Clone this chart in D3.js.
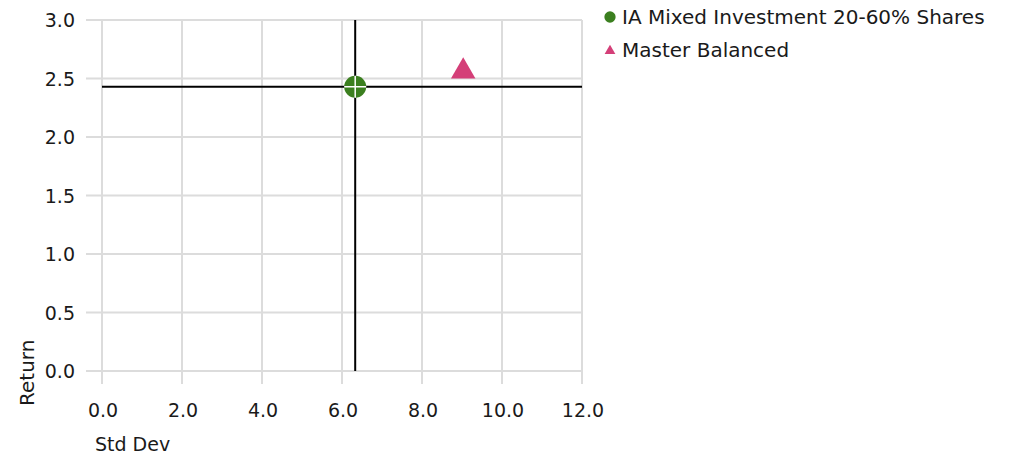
<!DOCTYPE html>
<html>
<head>
<meta charset="utf-8">
<script src="https://cdn.jsdelivr.net/npm/d3@7"></script>
<style>
  body { margin: 0; background: #fff; }
  text { font-family: "DejaVu Sans", Verdana, sans-serif; fill: #1a1a1a; }
</style>
</head>
<body>
<svg id="chart" width="1009" height="456"></svg>
<script>
const seriesNames = ["IA Mixed Investment 20-60% Shares", "Master Balanced"];
const stdDevValues = [6.33, 9.03];
const returnValues = [2.43, 2.57];
const seriesColors = ["#3b7f1f", "#d43f78"];
const xTicks = [0, 2, 4, 6, 8, 10, 12];
const yTicks = [0, 0.5, 1, 1.5, 2, 2.5, 3];

const svg = d3.select("#chart");
const x = d3.scaleLinear().domain([0, 12]).range([102, 582]);
const y = d3.scaleLinear().domain([0, 3]).range([371, 20]);

// gridlines
svg.append("g")
  .selectAll("line")
  .data(yTicks)
  .join("line")
  .attr("x1", 86)
  .attr("x2", x(12))
  .attr("y1", (d) => y(d))
  .attr("y2", (d) => y(d))
  .attr("stroke", "#dcdcdc")
  .attr("stroke-width", 2);

svg.append("g")
  .selectAll("line")
  .data(xTicks)
  .join("line")
  .attr("x1", (d) => x(d))
  .attr("x2", (d) => x(d))
  .attr("y1", y(3))
  .attr("y2", 384)
  .attr("stroke", "#dcdcdc")
  .attr("stroke-width", 2);

svg.append("g")
  .selectAll("text")
  .data(yTicks)
  .join("text")
  .attr("x", 75)
  .attr("y", (d) => y(d) + 7)
  .attr("text-anchor", "end")
  .attr("font-size", 19)
  .text((d) => d.toFixed(1));

svg.append("g")
  .selectAll("text")
  .data(xTicks)
  .join("text")
  .attr("x", (d) => x(d) + 1)
  .attr("y", 417)
  .attr("text-anchor", "middle")
  .attr("font-size", 19)
  .text((d) => d.toFixed(1));

svg.append("text")
  .attr("x", 95)
  .attr("y", 451)
  .attr("font-size", 19)
  .text("Std Dev");

svg.append("text")
  .attr("transform", "translate(34,406) rotate(-90)")
  .attr("font-size", 20)
  .text("Return");

// crosshair through the sector average
const avgX = stdDevValues[0];
const avgY = returnValues[0];
svg.append("line")
  .attr("x1", x(0)).attr("x2", x(12))
  .attr("y1", y(avgY)).attr("y2", y(avgY))
  .attr("stroke", "#000").attr("stroke-width", 2);
svg.append("line")
  .attr("x1", x(avgX)).attr("x2", x(avgX))
  .attr("y1", y(3)).attr("y2", y(0))
  .attr("stroke", "#000").attr("stroke-width", 2);

// points
const circleSym = d3.symbol().type(d3.symbolCircle).size(Math.PI * 11 * 11);
const triSym = d3.symbol().type(d3.symbolTriangle).size(260);

svg.append("path")
  .attr("d", circleSym())
  .attr("transform", `translate(${x(stdDevValues[0])},${y(returnValues[0])})`)
  .attr("fill", seriesColors[0]);
svg.append("path")
  .attr("d", `M-11,0H11M0,-11V11`)
  .attr("transform", `translate(${x(stdDevValues[0])},${y(returnValues[0])})`)
  .attr("stroke", "#fff").attr("stroke-width", 1.5);

svg.append("path")
  .attr("d", triSym())
  .attr("transform", `translate(${x(stdDevValues[1])},${y(returnValues[1]) + 1})`)
  .attr("fill", seriesColors[1]);

// legend
const legend = svg.append("g").attr("transform", "translate(610,0)");
const legendSyms = [d3.symbol().type(d3.symbolCircle).size(100), d3.symbol().type(d3.symbolTriangle).size(50)];
seriesNames.forEach((name, i) => {
  const cy = 17 + i * 33;
  legend.append("path")
    .attr("d", legendSyms[i]())
    .attr("transform", `translate(0,${cy + (i === 1 ? 1 : 0)})`)
    .attr("fill", seriesColors[i]);
  legend.append("text")
    .attr("x", 12)
    .attr("y", cy + 7)
    .attr("font-size", 20)
    .text(name);
});
</script>
</body>
</html>
